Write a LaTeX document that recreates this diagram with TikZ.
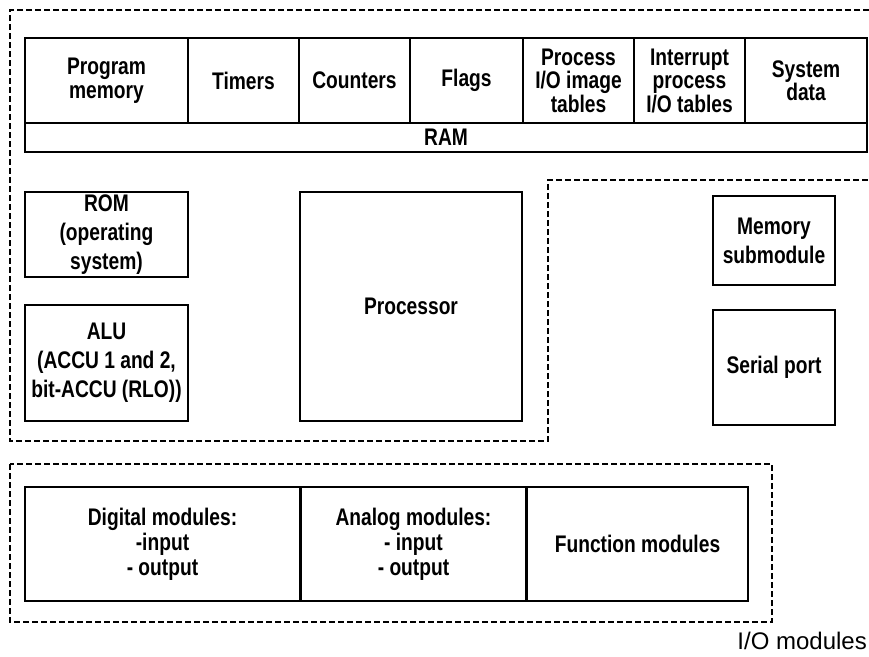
\documentclass[tikz,border=0pt]{standalone}
\usepackage{fontspec}
\setmainfont{Liberation Sans}[FakeStretch=0.8]
\newfontfamily\plainsans{Liberation Sans}
\usetikzlibrary{positioning}

\tikzset{
  unit/.style={draw, line width=1.5pt, inner sep=0pt, align=center,
    font=\bfseries\fontsize{24}{23.5}\selectfont},
  bigunit/.style={unit, font=\bfseries\fontsize{24}{29}\selectfont},
  iounit/.style={unit, font=\bfseries\fontsize{24}{25}\selectfont},
  zone/.style={line width=1.3pt, dash pattern=on 6pt off 3pt},
}

\begin{document}
\begin{tikzpicture}[x=1pt, y=-1pt]
  \useasboundingbox (0,0) rectangle (869,656);
  % CPU area
  \draw[zone] (869,10) -- (10,10) -- (10,441) -- (548,441) -- (548,180) -- (869,180);
  % RAM areas
  \foreach \n/\cx/\w/\lbl in {prog/106.5/163/{Program\\memory},
      tim/243.5/111/Timers, cnt/354.5/111/Counters, flg/466.5/113/Flags,
      pii/578.5/111/{Process\\I/O image\\tables},
      ipt/689.5/111/{Interrupt\\process\\I/O tables},
      sys/806/122/{System\\data}}
    \node[unit, minimum width=\w pt, minimum height=85pt] (\n) at (\cx,80.5) {\lbl};
  \node[unit, minimum width=842pt, minimum height=29pt] (ram) at (446,137.5) {RAM};
  % left column and processor
  \node[bigunit, minimum width=163pt, minimum height=85pt] (rom) at (106.5,234.5)
    {ROM\\(operating\\system)};
  \node[bigunit, minimum width=163pt, minimum height=116pt] (alu) at (106.5,363)
    {ALU\\(ACCU 1 and 2,\\bit-ACCU (RLO))};
  \node[unit, minimum width=222pt, minimum height=229pt] (cpu) at (411,306.5) {Processor};
  % submodules
  \node[bigunit, minimum width=122pt, minimum height=89pt] (mem) at (774,240.5)
    {Memory\\submodule};
  \node[unit, minimum width=122pt, minimum height=115pt] (ser) at (774,367.5)
    {Serial port};
  % I/O modules
  \draw[zone] (10,464) rectangle (772,622);
  \node[iounit, minimum width=275pt, minimum height=114pt] (dig) at (162.5,544)
    {Digital modules:\\-input\\- output};
  \node[iounit, minimum width=224pt, minimum height=114pt, right=0pt of dig] (ana)
    {Analog modules:\\- input\\- output};
  \node[iounit, minimum width=221pt, minimum height=114pt, right=0pt of ana] (fun)
    {Function modules};
  \node[anchor=base east, inner sep=0pt, font=\plainsans\fontsize{24}{24}\selectfont]
    (iolbl) at (867,649) {I/O modules};
\end{tikzpicture}
\end{document}
